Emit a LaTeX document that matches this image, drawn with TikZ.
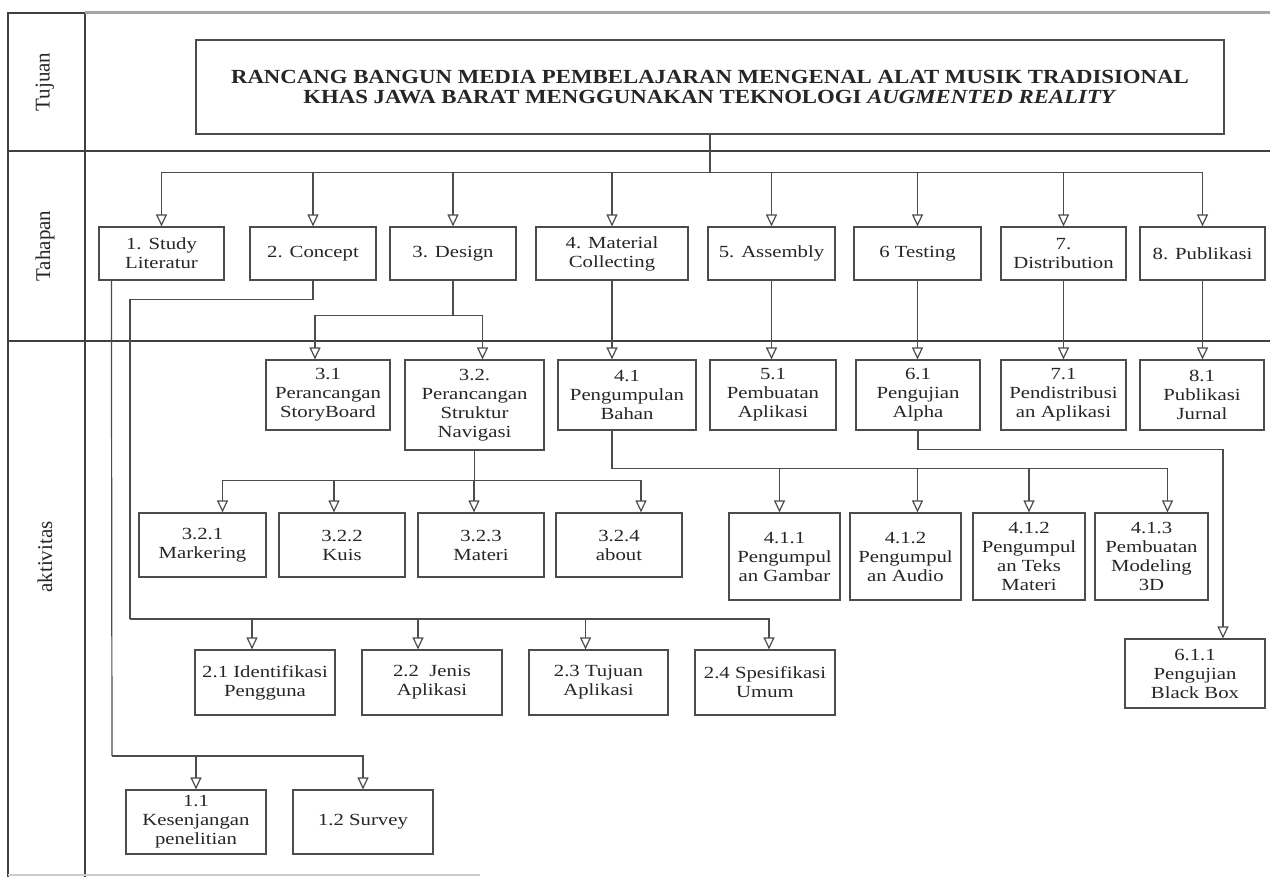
\documentclass[tikz,border=0pt]{standalone}
\usepackage{fontspec}
\setmainfont{Liberation Serif}[FakeStretch=1.22]
\newfontfamily\titlefont{Liberation Serif}[FakeStretch=1.14]
\newfontfamily\lanefont{Liberation Serif}
\usetikzlibrary{arrows.meta}

\tikzset{
	box/.style={draw=black!70, line width=1.2pt, align=center, inner sep=1pt, text=black!85, font=\fontsize{17}{19}\selectfont},
	link/.style={draw=black!70, line width=1.2pt},
	arr/.style={link, -{Triangle[open,length=12pt,width=11pt]}},
	lane/.style={rotate=90, text=black!85, font=\lanefont\fontsize{21}{23}\selectfont},
	grid/.style={draw=black!75, line width=1.3pt},
}

\begin{document}
\begin{tikzpicture}[x=1pt,y=-1pt]
			\useasboundingbox[fill=white] (0,0) rectangle (1270,877);
			\draw[grid] (8,877) -- (8,13) -- (85,13) -- (85,877);
			\draw[draw=black!35, line width=3pt] (85,13) -- (1270,13);
			\draw[grid] (8,151) -- (1270,151);
			\draw[grid] (8,341) -- (1270,341);
			\draw[draw=black!20, line width=1.2pt] (8,875) -- (480,875);
			\node[lane] (lTujuan) at (45,82) {Tujuan};
			\node[lane] (lTahapan) at (45,246) {Tahapan};
			\node[lane] (lAktivitas) at (45,557) {aktivitas};

			\node[box, minimum width=1028pt, minimum height=94pt, font=\titlefont\bfseries\fontsize{20}{20}\selectfont] (title) at (710,87)
				{RANCANG BANGUN MEDIA PEMBELAJARAN MENGENAL ALAT MUSIK TRADISIONAL\\KHAS JAWA BARAT MENGGUNAKAN TEKNOLOGI \textit{AUGMENTED REALITY}};

			\node[box, minimum width=125pt, minimum height=53pt] (t1) at (161.5,253.5) {1. Study\\Literatur};
			\node[box, minimum width=126pt, minimum height=53pt] (t2) at (313,253.5) {2. Concept};
			\node[box, minimum width=126pt, minimum height=53pt] (t3) at (453,253.5) {3. Design};
			\node[box, minimum width=152pt, minimum height=53pt] (t4) at (612,253.5) {4. Material\\Collecting};
			\node[box, minimum width=127pt, minimum height=53pt] (t5) at (771.5,253.5) {5. Assembly};
			\node[box, minimum width=127pt, minimum height=53pt] (t6) at (917.5,253.5) {6 Testing};
			\node[box, minimum width=125pt, minimum height=53pt] (t7) at (1063.5,253.5) {7.\\Distribution};
			\node[box, minimum width=125pt, minimum height=53pt] (t8) at (1202.5,253.5) {8. Publikasi};

			\node[box, minimum width=124pt, minimum height=70pt] (s31) at (328,395) {3.1\\Perancangan\\StoryBoard};
			\node[box, minimum width=139pt, minimum height=90pt] (s32) at (474.5,405) {3.2.\\Perancangan\\Struktur\\Navigasi};
			\node[box, minimum width=138pt, minimum height=70pt] (s41) at (627,395) {4.1\\Pengumpulan\\Bahan};
			\node[box, minimum width=126pt, minimum height=70pt] (s51) at (773,395) {5.1\\Pembuatan\\Aplikasi};
			\node[box, minimum width=124pt, minimum height=70pt] (s61) at (918,395) {6.1\\Pengujian\\Alpha};
			\node[box, minimum width=125pt, minimum height=70pt] (s71) at (1063.5,395) {7.1\\Pendistribusi\\an Aplikasi};
			\node[box, minimum width=124pt, minimum height=70pt] (s81) at (1202,395) {8.1\\Publikasi\\Jurnal};

			\node[box, minimum width=127pt, minimum height=64pt] (a1) at (202.5,545) {3.2.1\\Markering};
			\node[box, minimum width=126pt, minimum height=64pt] (a2) at (342,545) {3.2.2\\Kuis};
			\node[box, minimum width=126pt, minimum height=64pt] (a3) at (481,545) {3.2.3\\Materi};
			\node[box, minimum width=126pt, minimum height=64pt] (a4) at (619,545) {3.2.4\\about};

			\node[box, minimum width=111pt, minimum height=87pt] (b1) at (784.5,556.5) {4.1.1\\Pengumpul\\an Gambar};
			\node[box, minimum width=111pt, minimum height=87pt] (b2) at (905.5,556.5) {4.1.2\\Pengumpul\\an Audio};
			\node[box, minimum width=112pt, minimum height=87pt] (b3) at (1029,556.5) {4.1.2\\Pengumpul\\an Teks\\Materi};
			\node[box, minimum width=113pt, minimum height=87pt] (b4) at (1151.5,556.5) {4.1.3\\Pembuatan\\Modeling\\3D};
			\node[box, minimum width=140pt, minimum height=69pt] (u611) at (1195,673.5) {6.1.1\\Pengujian\\Black Box};

			\node[box, minimum width=140pt, minimum height=65pt] (c1) at (265,682.5) {2.1 Identifikasi\\Pengguna};
			\node[box, minimum width=140pt, minimum height=65pt] (c2) at (432,682.5) {2.2~ Jenis\\Aplikasi};
			\node[box, minimum width=139pt, minimum height=65pt] (c3) at (598.5,682.5) {2.3 Tujuan\\Aplikasi};
			\node[box, minimum width=140pt, minimum height=65pt] (c4) at (765,682.5) {2.4 Spesifikasi\\Umum};

			\node[box, minimum width=140pt, minimum height=64pt] (d1) at (196,822) {1.1\\Kesenjangan\\penelitian};
			\node[box, minimum width=140pt, minimum height=64pt] (d2) at (363,822) {1.2 Survey};

			\coordinate (jT) at ([yshift=-38pt]title.south);
			\draw[link] (title) -- (jT);
			\foreach \n in {t1,t2,t3,t4,t5,t6,t7,t8}
				\draw[arr] (jT) -| (\n);

			\coordinate (jD) at ([yshift=-35pt]t3.south);
			\draw[link] (t3) -- (jD);
			\draw[arr] (jD) -| ([xshift=-13pt]s31.north);
			\draw[arr] (jD) -| ([xshift=8pt]s32.north);
			\draw[arr] (t4) -- (t4 |- s41.north);
			\draw[arr] (t5) -- (t5 |- s51.north);
			\draw[arr] (t6) -- (t6 |- s61.north);
			\draw[arr] (t7) -- (t7 |- s71.north);
			\draw[arr] (t8) -- (t8 |- s81.north);

			\path (s32.south) ++(0,30) coordinate (jN);
			\draw[link] (s32) -- (jN);
			\draw[arr] (jN) -| ([xshift=20pt]a1.north);
			\draw[arr] (jN) -| ([xshift=-8pt]a2.north);
			\draw[arr] (jN) -| ([xshift=-7pt]a3.north);
			\draw[arr] (jN) -| ([xshift=22pt]a4.north);

			\path (t4 |- s41.south) ++(0,38) coordinate (jM);
			\draw[link] (t4 |- s41.south) -- (jM);
			\draw[arr] (jM) -| ([xshift=-5pt]b1.north);
			\draw[arr] (jM) -| ([xshift=12pt]b2.north);
			\draw[arr] (jM) -| (b3.north);
			\draw[arr] (jM) -| ([xshift=16pt]b4.north);

			\path (s61.south) ++(0,19) coordinate (jA);
			\draw[link] (s61) -- (jA);
			\draw[arr] (jA) -| ([xshift=28pt]u611.north);

			\path (t2.south) ++(0,19) coordinate (kC1);
			\coordinate (kC2) at (130,619);
			\draw[link] (t2) -- (kC1) -| (kC2);
			\draw[arr] (kC2) -| ([xshift=-13pt]c1.north);
			\draw[arr] (kC2) -| ([xshift=-14pt]c2.north);
			\draw[arr] (kC2) -| ([xshift=-13pt]c3.north);
			\draw[arr] (kC2) -| ([xshift=4pt]c4.north);

			\coordinate (kS1) at ([xshift=13pt]t1.south west);
			\coordinate (kS2) at (112,756);
			\draw[link] (kS1) -- (kS2);
			\draw[arr] (kS2) -| (d1.north);
			\draw[arr] (kS2) -| (d2.north);
		\end{tikzpicture}
\end{document}
